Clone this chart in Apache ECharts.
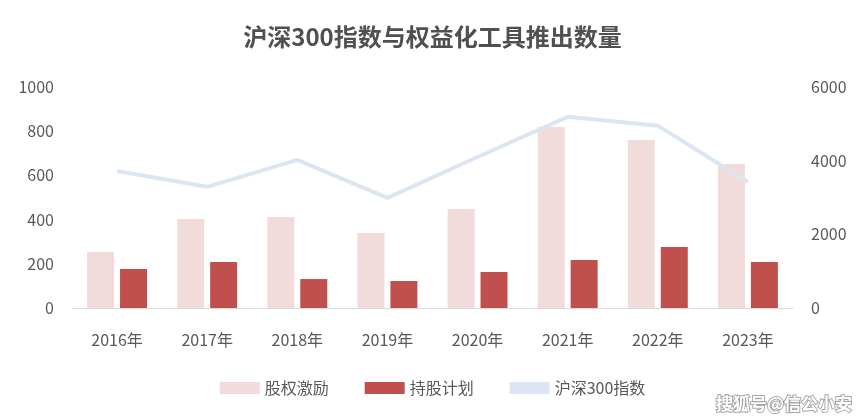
<!DOCTYPE html><html><head><meta charset="utf-8"><script src="https://cdn.jsdelivr.net/npm/echarts@6/dist/echarts.min.js"></script></head><body style="margin:0"><div id="c" style="width:865px;height:419px"></div><script>
const categories=['2016年','2017年','2018年','2019年','2020年','2021年','2022年','2023年'];
const equityIncentive=[253,403,412,339,448,819,760,652];
const esop=[176,208,131,122,163,217,276,208];
const csi300=[3720,3290,4020,2990,4100,5190,4950,3420];
const ch=echarts.init(document.getElementById('c'));
const f='"Noto Sans CJK SC"';
const lab={fontFamily:f,fontSize:16,color:'#595959'};
ch.setOption({
title:{text:'沪深300指数与权益化工具推出数量',left:'center',top:20,textStyle:{fontFamily:f,fontSize:24,fontWeight:'bold',color:'#505050'}},
grid:{left:72,right:72,top:87,bottom:111},
legend:{bottom:18,itemGap:36,textStyle:{fontFamily:f,fontSize:16,color:'#595959'},data:[{name:'股权激励',icon:'rect'},{name:'持股计划',icon:'rect'},{name:'沪深300指数',icon:'rect'}],itemWidth:40,itemHeight:12},
xAxis:{type:'category',data:categories,axisTick:{show:false},axisLine:{lineStyle:{color:'#d9d9d9'}},axisLabel:Object.assign({margin:24},lab)},
yAxis:[{type:'value',min:0,max:1000,interval:200,splitLine:{show:false},axisLabel:Object.assign({margin:18,formatter:v=>String(v)},lab)},
{type:'value',min:0,max:6000,interval:2000,splitLine:{show:false},axisLabel:Object.assign({margin:18,formatter:v=>String(v)},lab)}],
series:[{name:'股权激励',type:'bar',data:equityIncentive,barWidth:27,barGap:'22%',itemStyle:{color:'#f2dcdb'}},
{name:'持股计划',type:'bar',data:esop,barWidth:27,itemStyle:{color:'#c0504d'}},
{name:'沪深300指数',type:'line',yAxisIndex:1,data:csi300,symbol:'none',z:5,lineStyle:{width:4,color:'#dce6f2'},itemStyle:{color:'#dce6f2'}}],
graphic:[{type:'text',right:12,bottom:6,style:{text:'搜狐号@信公小安',fill:'#fff',font:'bold 17px "Noto Sans CJK SC"',stroke:'rgba(0,0,0,0.35)',lineWidth:2}}]
});
</script></body></html>
